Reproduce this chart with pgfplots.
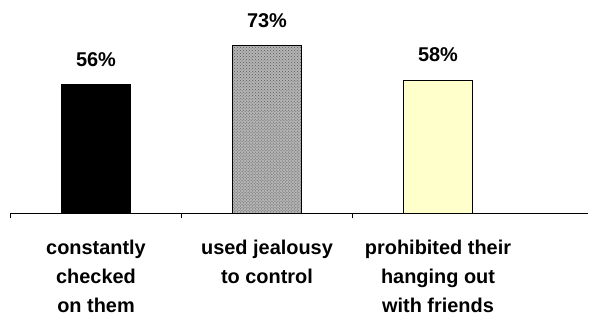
\documentclass[border=0pt]{standalone}
\usepackage{fontspec}
\setmainfont{Liberation Sans}
\usepackage{pgfplots}
\pgfplotsset{compat=1.18}
\usetikzlibrary{patterns}
\definecolor{lightyel}{HTML}{FFFFCC}
\definecolor{granite}{HTML}{B4B4B4}
\begin{document}
\begin{tikzpicture}
\begin{axis}[
  scale only axis,
  width=577.5bp, height=184bp,
  xmin=-0.5, xmax=2.877, ymin=0, ymax=80,
  clip=false,
  axis y line=none,
  axis x line*=bottom,
  x axis line style={-, line width=1.6bp},
  xtick={0,1,2},
  xticklabels={constantly\\checked\\on them, used jealousy\\to control, prohibited their\\hanging out\\with friends},
  major tick length=0pt,
  xticklabel style={align=center, inner sep=0pt, yshift=-26bp,
    font=\fontsize{20}{29.5}\selectfont\bfseries},
  extra x ticks={-0.5,0.5,1.5},
  extra x tick labels={},
  extra x tick style={major tick length=5bp, tick align=outside,
    major tick style={black, line width=1.6bp}},
  ybar, bar width=69bp, bar shift=0pt,
  point meta=explicit symbolic,
  nodes near coords={\pgfplotspointmeta\%},
  every node near coord/.append style={inner sep=0pt, yshift=17.5bp,
    font=\fontsize{20}{24}\selectfont\bfseries, black},
]
\addplot[fill=black, draw=black, line width=1bp] coordinates {(0,56) [56]};
\addplot[fill=granite, draw=black, line width=1bp,
  postaction={pattern=crosshatch dots, pattern color=gray!70!black}] coordinates {(1,73) [73]};
\addplot[fill=lightyel, draw=black, line width=1bp] coordinates {(2,58) [58]};
\coordinate (bbsw) at (axis cs:-0.5614,-45.43);
\coordinate (bbne) at (axis cs:2.883,92.83);
\end{axis}
\pgfresetboundingbox
\path[use as bounding box] (bbsw) rectangle (bbne);
\end{tikzpicture}
\end{document}
